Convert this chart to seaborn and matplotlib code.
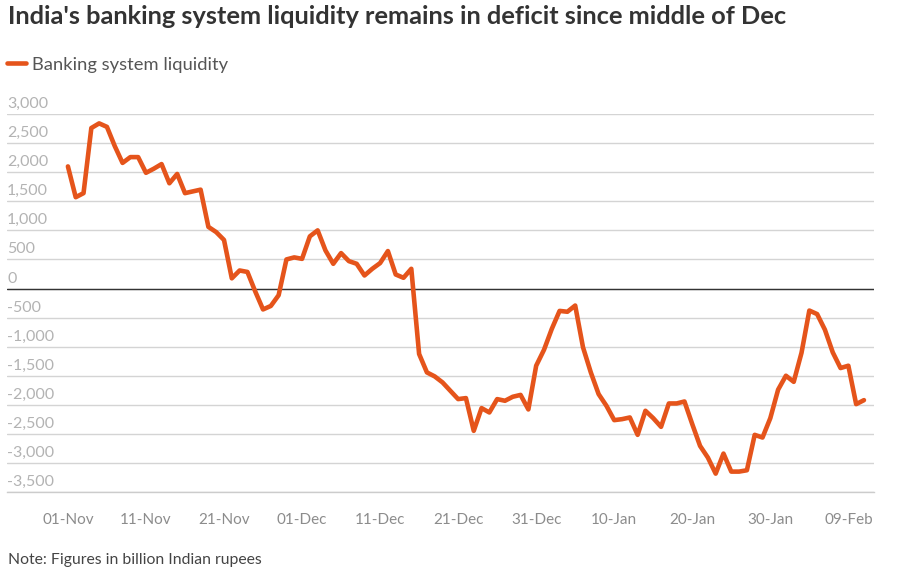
import seaborn as sns
import pandas as pd
import matplotlib.dates as mdates
from matplotlib import pyplot as plt
from matplotlib import transforms

# daily banking system liquidity, billion rupees
start_date = "2024-11-01"
liquidity = [
    2100, 1570, 1640, 2760, 2840, 2780, 2450, 2160, 2260, 2260,
    1990, 2060, 2140, 1810, 1970, 1640, 1670, 1700, 1060, 970,
    835, 175, 310, 285, -50, -360, -300, -115, 500, 535,
    510, 897, 1000, 655, 425, 609, 471, 425, 224, 339,
    437, 644, 241, 184, 339, -1126, -1443, -1512, -1615, -1759,
    -1902, -1885, -2448, -2057, -2132, -1902, -1931, -1862, -1830, -2080,
    -1328, -1055, -695, -385, -400, -293, -1011, -1443, -1816, -2017,
    -2264, -2247, -2218, -2517, -2103, -2230, -2379, -1977, -1977, -1943,
    -2333, -2707, -2908, -3184, -2839, -3149, -3149, -3126, -2517, -2563,
    -2230, -1740, -1500, -1605, -1105, -379, -440, -710, -1098, -1368,
    -1328, -1989, -1920,
]
y_ticks = [3000, 2500, 2000, 1500, 1000, 500, 0, -500, -1000, -1500,
           -2000, -2500, -3000, -3500]
x_ticks = pd.date_range("2024-11-01", "2025-02-09", freq="10D")

title = "India's banking system liquidity remains in deficit since middle of Dec"
series_name = "Banking system liquidity"
note = "Note: Figures in billion Indian rupees"

df = pd.DataFrame({
    "date": pd.date_range(start_date, periods=len(liquidity), freq="D"),
    "value": liquidity,
})

sns.set_style("white")
plt.rcParams["font.family"] = ["Lato", "DejaVu Sans"]

line_color = "#E5541B"

fig = plt.figure(figsize=(9.03, 5.77), dpi=100)
ax = fig.add_axes([0.0078, 0.1473, 0.9602, 0.655])

sns.lineplot(data=df, x="date", y="value", ax=ax, color=line_color,
             linewidth=3.3, label=series_name, legend=False)

# axis ranges
x0 = pd.Timestamp(start_date)
ax.set_xlim(x0 - pd.Timedelta(days=7.8), x0 + pd.Timedelta(days=103.3))
ax.set_ylim(-3500, 3000)

# gridlines and zero line
for v in y_ticks:
    ax.axhline(v, color="#d4d4d4", linewidth=1, zorder=0)
ax.axhline(0, color="#333333", linewidth=1, zorder=1)

# y labels sit above their gridlines
ax.set_yticks(y_ticks)
ax.set_yticklabels([])
ax.tick_params(axis="y", length=0)
label_tr = transforms.blended_transform_factory(ax.transAxes, ax.transData)
label_tr = label_tr + transforms.ScaledTranslation(0, 3 / 100, fig.dpi_scale_trans)
for v in y_ticks:
    ax.text(0, v, f"{v:,}", transform=label_tr, ha="left", va="bottom",
            fontsize=11.5, color="#b3b3b3")

# x ticks
ax.set_xticks(x_ticks)
ax.xaxis.set_major_formatter(mdates.DateFormatter("%d-%b"))
ax.tick_params(axis="x", length=6, width=1, color="#cccccc", pad=9,
               labelsize=11, labelcolor="#8c8c8c")
ax.set_xlabel("")
ax.set_ylabel("")

for side in ["top", "right", "left"]:
    ax.spines[side].set_visible(False)
ax.spines["bottom"].set_color("#cccccc")
ax.spines["bottom"].set_linewidth(1)

# title, legend, note
fig.text(0.009, 0.972, title, fontsize=18.3, fontweight="bold",
         color="#333333", ha="left", va="center")
fig.legend(loc="center left", bbox_to_anchor=(0.008, 0.888), frameon=False,
           fontsize=13.2, handlelength=1.05, handletextpad=0.3,
           borderpad=0, borderaxespad=0, labelcolor="#555555")
fig.text(0.009, 0.029, note, fontsize=11.3, color="#444444",
         ha="left", va="center")

plt.savefig("out.png", dpi=100)
